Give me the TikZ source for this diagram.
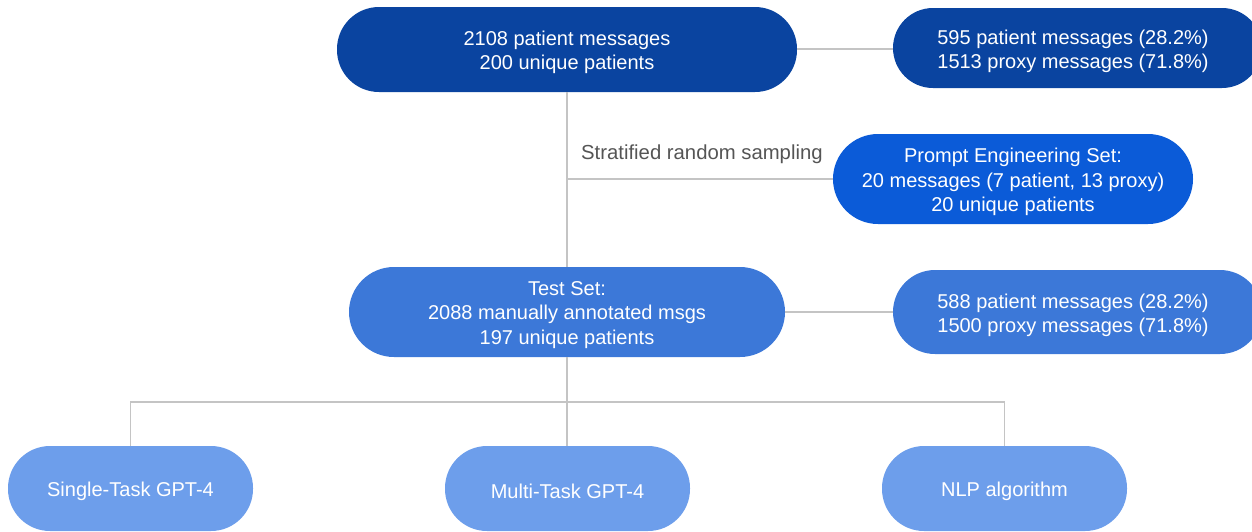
\documentclass[tikz,border=0pt]{standalone}
\usepackage{fontspec}
\setmainfont{Liberation Sans}
\definecolor{cA}{HTML}{0A44A0}
\definecolor{cB}{HTML}{0B5BD8}
\definecolor{cC}{HTML}{3C78D8}
\definecolor{cD}{HTML}{6D9EEB}
\definecolor{lineg}{HTML}{C4C4C4}
\definecolor{labg}{HTML}{555555}
\tikzset{
  pill/.style={text=white, align=center, font=\fontsize{20}{24.5}\selectfont, inner sep=0pt},
  conn/.style={draw=lineg, line width=1.3pt},
}
\begin{document}
\begin{tikzpicture}[x=1pt,y=-1pt]
\useasboundingbox (0,0) rectangle (1252,531);
\clip (0,0) rectangle (1252,531);
% boxes
\fill[cA, rounded corners=42pt] (337,7) rectangle (797,92);
\node[pill] (top) at (567,52.5) {2108 patient messages\\200 unique patients};
\fill[cA, rounded corners=40pt] (893,8) rectangle (1262,88);
\node[pill] (topr) at (1073,51.5) {595 patient messages (28.2\%)\\1513 proxy messages (71.8\%)};
\fill[cB, rounded corners=45pt] (833,134) rectangle (1193,224);
\node[pill] (pe) at (1013,182) {Prompt Engineering Set:\\20 messages (7 patient, 13 proxy)\\20 unique patients};
\fill[cC, rounded corners=45pt] (349,267) rectangle (785,357);
\node[pill] (test) at (567,315) {Test Set:\\2088 manually annotated msgs\\197 unique patients};
\fill[cC, rounded corners=42pt] (893,270) rectangle (1262,354);
\node[pill] (testr) at (1073,315.5) {588 patient messages (28.2\%)\\1500 proxy messages (71.8\%)};
\fill[cD, rounded corners=42pt] (8,446) rectangle (253,531);
\node[pill] (s1) at (130.5,491) {Single-Task GPT-4};
\fill[cD, rounded corners=42pt] (445,446) rectangle (690,531);
\node[pill] (s2) at (567.5,491) {Multi-Task GPT-4};
\fill[cD, rounded corners=42pt] (882,446) rectangle (1127,531);
\node[pill] (s3) at (1004.5,491) {NLP algorithm};
% anchors
\coordinate (topb) at (567,92);
\coordinate (topre) at (797,49);
\coordinate (toprl) at (893,49);
\coordinate (split) at (567,179);
\coordinate (pel) at (833,179);
\coordinate (testt) at (567,267);
\coordinate (testb) at (567,357);
\coordinate (testre) at (785,312);
\coordinate (testrl) at (893,312);
\coordinate (bus) at (567,402);
\coordinate (s1t) at (130.5,446);
\coordinate (s2t) at (567,446);
\coordinate (s3t) at (1004.5,446);
% connectors
\draw[conn] (topre) -- (toprl);
\draw[conn] (topb) -- (testt);
\draw[conn] (split) -- (pel);
\draw[conn] (testre) -- (testrl);
\draw[conn] (testb) -- (s2t);
\draw[conn] (s1t) |- (bus) -| (s3t);
\node[text=labg, font=\fontsize{20.3}{24}\selectfont, anchor=west, inner sep=0pt] (lab) at (581,154) {Stratified random sampling};
\end{tikzpicture}
\end{document}
